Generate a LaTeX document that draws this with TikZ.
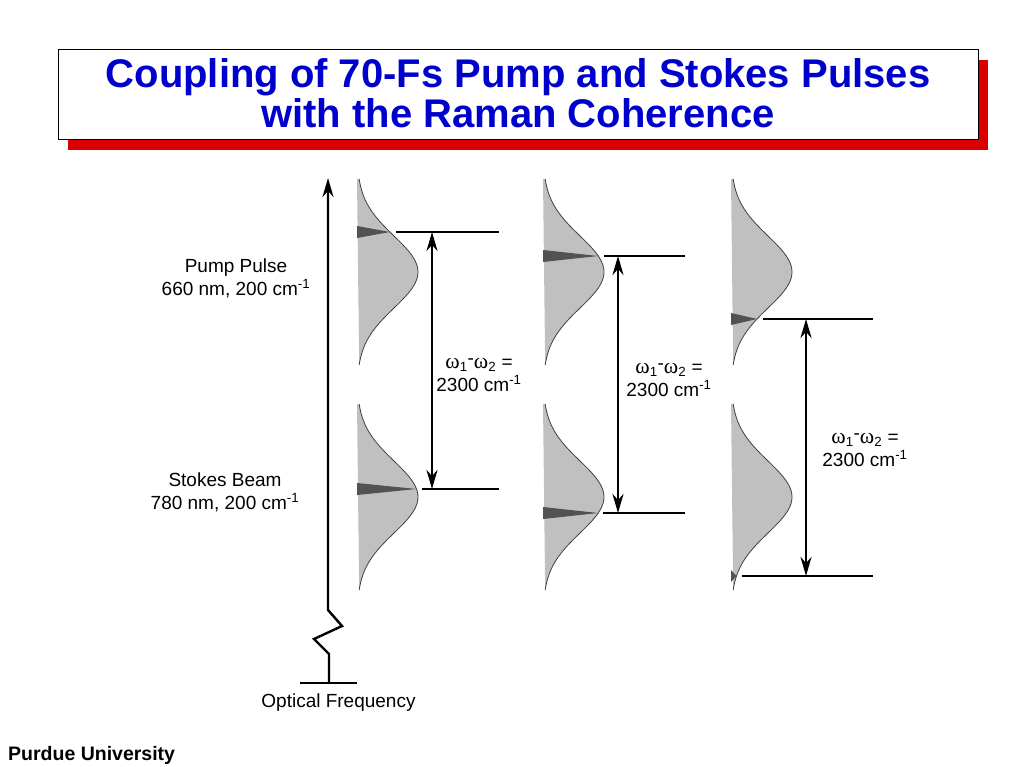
\documentclass[tikz,border=0pt]{standalone}
\usepackage{fontspec}
\setmainfont{Liberation Sans}
\newfontfamily\greekfont[Scale=1.15]{Liberation Serif}
\usetikzlibrary{arrows.meta,shadows}
\definecolor{titleblue}{RGB}{0,0,204}
\definecolor{shadowred}{RGB}{218,0,0}
\definecolor{pulsegray}{RGB}{192,192,192}
\definecolor{bandgray}{RGB}{82,82,82}
\newcommand{\omdiff}{{\greekfont ω}\textsubscript{1}\raisebox{4pt}{-}{\greekfont ω}\textsubscript{2} =}

\begin{document}
\begin{tikzpicture}[x=1pt,y=-1pt,
        >={Stealth[length=19pt,width=11pt,inset=6pt]},
        level/.style={line width=2.4pt},
        pulse/.style={draw=black!75,line width=0.8pt},
        lbl/.style={font=\fontsize{19}{23}\selectfont,align=center,inner sep=0pt}]
    \useasboundingbox (0,0) rectangle (1024,767);

    % title
    \node[draw,line width=1pt,fill=white,minimum width=920pt,minimum height=90pt,inner sep=0pt,
          drop shadow={shadow xshift=10pt,shadow yshift=-10pt,fill=shadowred,opacity=1}]
          (title) at (518,95) {};
    \node[font=\fontsize{40}{40}\selectfont\bfseries,text=titleblue,align=center,anchor=base]
          (head) at (518,128) {Coupling of 70-Fs Pump and Stokes Pulses\\with the Raman Coherence};

    % frequency axis
    \coordinate (b1) at (300,683);
    \coordinate (b2) at (357,683);
    \coordinate (z0) at (329,683);
    \coordinate (z1) at (329,654);
    \coordinate (z2) at (314,639);
    \coordinate (z3) at (342,626);
    \coordinate (z4) at (328,610);
    \coordinate (top) at (328,178);
    \draw[level] (b1) -- (b2);
    \draw[level,->] (z0) -- (z1) -- (z2) -- (z3) -- (z4) -- (top);
    \node[lbl,anchor=base] (axis) at (338.5,707) {Optical Frequency};

    \node[lbl,anchor=base] (pump) at (236,295) {Pump Pulse\\660 nm, 200 cm\textsuperscript{-1}};
    \node[lbl,anchor=base] (stokes) at (225,509) {Stokes Beam\\780 nm, 200 cm\textsuperscript{-1}};

    % pulses and levels
    \foreach \bx/\lu/\ld/\ax/\xe [count=\i] in {357/232/489/432/499,543/256/513/618/685,731/319/576/806/873}{
        \pgfmathsetmacro\tu{\bx+61*exp(-(\lu-272)^2/2592)}
        \pgfmathsetmacro\td{\bx+61*exp(-(\ld-497)^2/2592)}
        \foreach \c in {272,497}
            \fill[pulsegray] (\bx,\c-93) -- plot[domain=-93:93,samples=61] ({\bx+61*exp(-\x*\x/2592)},{\c+\x}) -- cycle;
        \fill[bandgray] (\bx,\lu-6) -- (\tu,\lu) -- (\bx,\lu+6) -- cycle;
        \fill[bandgray] (\bx,\ld-6) -- (\td,\ld) -- (\bx,\ld+6) -- cycle;
        \foreach \c in {272,497}
            \draw[pulse] plot[domain=-93:93,samples=61] ({\bx+61*exp(-\x*\x/2592)},{\c+\x});
        \coordinate (ul\i) at (\tu+6,\lu);
        \coordinate (ur\i) at (\xe,\lu);
        \coordinate (dl\i) at (\td+5,\ld);
        \coordinate (dr\i) at (\xe,\ld);
        \coordinate (up\i) at (\ax,\lu);
        \coordinate (dn\i) at (\ax,\ld);
        \draw[level] (ul\i) -- (ur\i);
        \draw[level] (dl\i) -- (dr\i);
        \draw[level,<->] (up\i) -- (dn\i);
    }

    \node[lbl,anchor=base] (d1) at (479,391) {\omdiff\\2300 cm\textsuperscript{-1}};
    \node[lbl,anchor=base] (d2) at (669,396) {\omdiff\\2300 cm\textsuperscript{-1}};
    \node[lbl,anchor=base] (d3) at (865,466) {\omdiff\\2300 cm\textsuperscript{-1}};

    \node[anchor=base west,inner sep=0pt,font=\fontsize{19.5}{24}\selectfont\bfseries] (purdue) at (8,760) {Purdue University};
\end{tikzpicture}
\end{document}
